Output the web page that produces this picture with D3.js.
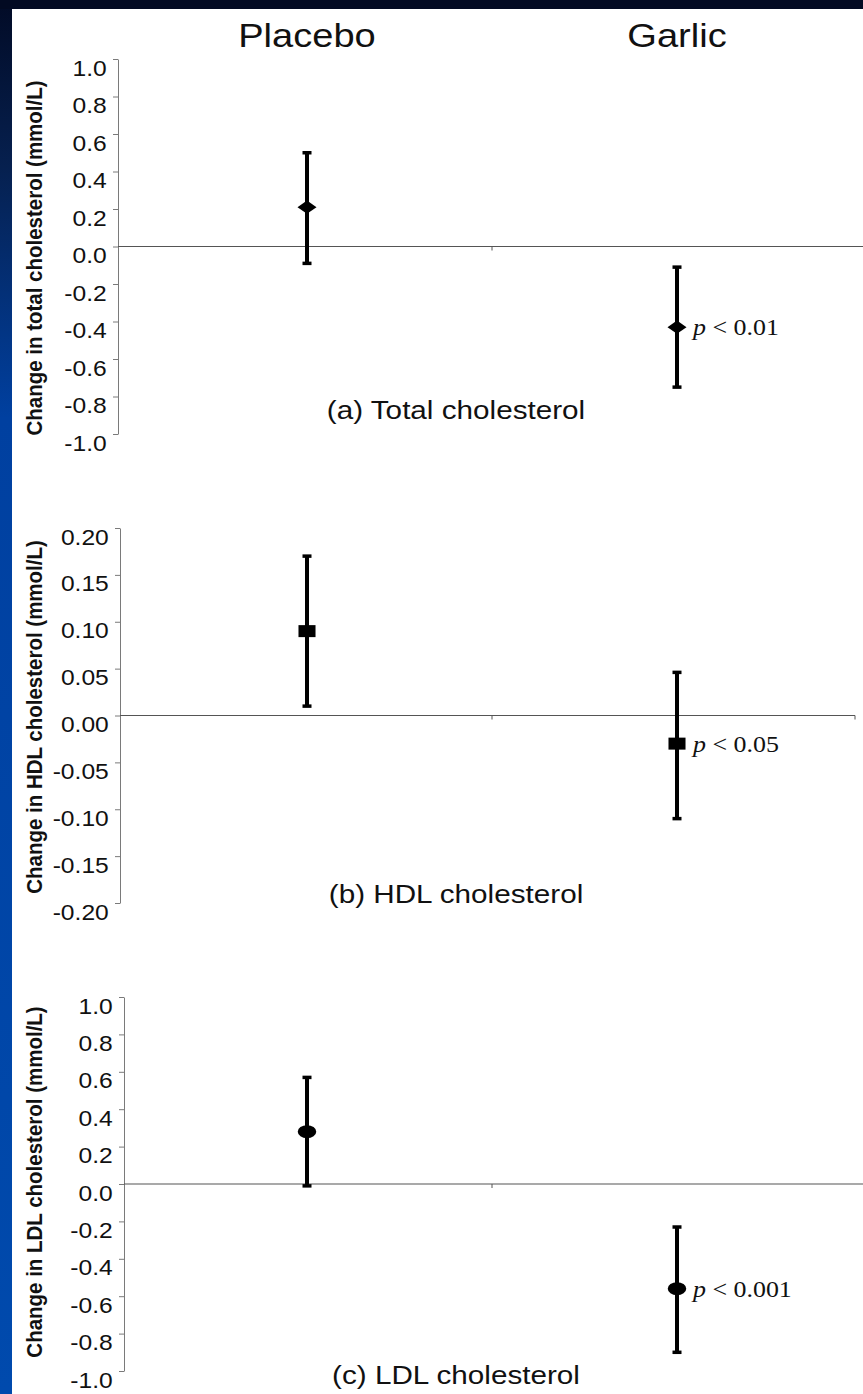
<!DOCTYPE html>
<html>
<head>
<meta charset="utf-8">
<script src="https://cdn.jsdelivr.net/npm/d3@7"></script>
<style>
  body { margin: 0; background: #fff; }
  svg { display: block; }
</style>
</head>
<body>
<div id="chart"></div>
<script>
// Groups along the x axis
var groups = ["Placebo", "Garlic"];

// (a) Total cholesterol change, mmol/L
var totalMean = [0.21, -0.43];
var totalLow = [-0.09, -0.75];
var totalHigh = [0.50, -0.11];
var totalTicks = [1.0, 0.8, 0.6, 0.4, 0.2, 0.0, -0.2, -0.4, -0.6, -0.8, -1.0];

// (b) HDL cholesterol change, mmol/L
var hdlMean = [0.09, -0.03];
var hdlLow = [0.01, -0.11];
var hdlHigh = [0.17, 0.046];
var hdlTicks = [0.20, 0.15, 0.10, 0.05, 0.00, -0.05, -0.10, -0.15, -0.20];

// (c) LDL cholesterol change, mmol/L
var ldlMean = [0.28, -0.56];
var ldlLow = [-0.01, -0.90];
var ldlHigh = [0.57, -0.23];
var ldlTicks = [1.0, 0.8, 0.6, 0.4, 0.2, 0.0, -0.2, -0.4, -0.6, -0.8, -1.0];

var pLabels = ["< 0.01", "< 0.05", "< 0.001"];
var panelLabels = ["(a) Total cholesterol", "(b) HDL cholesterol", "(c) LDL cholesterol"];
var axisTitles = [
  "Change in total cholesterol (mmol/L)",
  "Change in HDL cholesterol (mmol/L)",
  "Change in LDL cholesterol (mmol/L)"
];

var W = 863, H = 1394;
var stretch = 1.12; // the scanned figure is a little wider than tall
var sans = "'Liberation Sans', Arial, sans-serif";
var serif = "'Liberation Serif', 'Times New Roman', serif";

var panels = [
  {mean: totalMean, low: totalLow, high: totalHigh, ticks: totalTicks, digits: 1, symbol: "diamond"},
  {mean: hdlMean, low: hdlLow, high: hdlHigh, ticks: hdlTicks, digits: 2, symbol: "square"},
  {mean: ldlMean, low: ldlLow, high: ldlHigh, ticks: ldlTicks, digits: 1, symbol: "circle"}
];

// where each panel sits on the page
var layout = [
  {top: 59, bottom: 434, axisX: 118, lineEnd: 863, labelY: 419, titleY: 258},
  {top: 528, bottom: 903, axisX: 120, lineEnd: 855, labelY: 903, titleY: 717},
  {top: 997, bottom: 1371, axisX: 124, lineEnd: 863, labelY: 1384, titleY: 1182}
];

var svg = d3.select("#chart")
  .append("svg")
  .attr("width", W)
  .attr("height", H);

// Slide frame: dark band on top, blue gradient down the left edge
var grad = svg.append("defs").append("linearGradient")
  .attr("id", "edge")
  .attr("x1", 0).attr("y1", 0).attr("x2", 0).attr("y2", 1);
[[0, "#020b26"], [0.12, "#06204f"], [0.3, "#0040a0"], [1, "#004aad"]].forEach(function(s) {
  grad.append("stop").attr("offset", s[0]).attr("stop-color", s[1]);
});

svg.append("rect").attr("width", W).attr("height", H).attr("fill", "#fff");
svg.append("rect").attr("width", 12).attr("height", H).attr("fill", "url(#edge)");
svg.append("rect").attr("width", W).attr("height", 9).attr("fill", "#020a22");

var x = d3.scaleBand()
  .domain(groups)
  .range([122, 862]);

function cx(d) { return x(d) + x.bandwidth() / 2; }

// Column headings
svg.selectAll(".head")
  .data(groups)
  .enter()
  .append("text")
  .attr("class", "head")
  .attr("transform", function(d) { return "translate(" + cx(d) + ",47) scale(" + stretch + ",1)"; })
  .attr("text-anchor", "middle")
  .style("font-family", sans)
  .style("font-size", "34px")
  .style("fill", "#111")
  .text(function(d) { return d; });

var symbolTypes = {diamond: d3.symbolSquare, square: d3.symbolSquare, circle: d3.symbolCircle};
var symbolSizes = {diamond: 90, square: 144, circle: 133};

panels.forEach(function(p, i) {
  var L = layout[i];
  var g = svg.append("g");

  var y = d3.scaleLinear()
    .domain([d3.min(p.ticks), d3.max(p.ticks)])
    .range([L.bottom, L.top]);

  // Y axis
  var axis = g.append("g")
    .attr("transform", "translate(" + L.axisX + ",0)")
    .call(d3.axisLeft(y)
      .tickValues(p.ticks)
      .tickSize(5)
      .tickSizeOuter(0)
      .tickFormat(function(d) { return d.toFixed(p.digits); }));

  axis.select(".domain").attr("stroke", "#7a7a7a");
  axis.selectAll(".tick line").attr("stroke", "#7a7a7a");
  axis.selectAll(".tick text")
    .attr("transform", "scale(" + stretch + ",1)")
    .attr("x", -10)
    .attr("dy", null)
    .attr("y", 16)
    .style("font-family", sans)
    .style("font-size", "22px")
    .style("fill", "#111");

  // Axis title
  g.append("text")
    .attr("transform", "translate(34," + L.titleY + ") scale(" + stretch + ",1) rotate(-90)")
    .attr("text-anchor", "middle")
    .attr("dy", "0.35em")
    .style("font-family", sans)
    .style("font-weight", "bold")
    .style("font-size", "20.5px")
    .style("fill", "#111")
    .text(axisTitles[i]);

  // Zero line with the group divider tick (and an end tick when the line stops short)
  g.append("line")
    .attr("x1", L.axisX).attr("x2", L.lineEnd)
    .attr("y1", y(0)).attr("y2", y(0))
    .attr("stroke", "#555")
    .attr("stroke-width", 1.2);

  var dividers = [x("Garlic")];
  if (L.lineEnd < W) dividers.push(L.lineEnd);
  g.selectAll(".divider")
    .data(dividers)
    .enter()
    .append("line")
    .attr("x1", function(d) { return d; })
    .attr("x2", function(d) { return d; })
    .attr("y1", y(0)).attr("y2", y(0) + 4)
    .attr("stroke", "#555");

  // Error bars
  var bars = g.selectAll(".bar")
    .data(groups)
    .enter()
    .append("g")
    .attr("class", "bar");

  bars.append("line")
    .attr("x1", cx).attr("x2", cx)
    .attr("y1", function(d, j) { return y(p.high[j]); })
    .attr("y2", function(d, j) { return y(p.low[j]); })
    .attr("stroke", "#000")
    .attr("stroke-width", 4);

  ["high", "low"].forEach(function(k) {
    bars.append("line")
      .attr("x1", function(d) { return cx(d) - 4.5; })
      .attr("x2", function(d) { return cx(d) + 4.5; })
      .attr("y1", function(d, j) { return y(p[k][j]); })
      .attr("y2", function(d, j) { return y(p[k][j]); })
      .attr("stroke", "#000")
      .attr("stroke-width", 3.5);
  });

  // Mean markers
  bars.append("path")
    .attr("d", d3.symbol().type(symbolTypes[p.symbol]).size(symbolSizes[p.symbol]))
    .attr("transform", function(d, j) {
      var t = "translate(" + cx(d) + "," + y(p.mean[j]) + ") scale(1.42,1)";
      return p.symbol === "diamond" ? t + " rotate(45)" : t;
    })
    .attr("fill", "#000");

  // p value next to the garlic mean
  var pt = g.append("text")
    .attr("transform", "translate(" + (cx("Garlic") + 16) + "," + (y(p.mean[1]) + 8) + ") scale(1.08,1)")
    .style("font-family", serif)
    .style("font-size", "24px")
    .style("fill", "#111");
  pt.append("tspan").style("font-style", "italic").text("p");
  pt.append("tspan").text(" " + pLabels[i]);

  // Panel caption
  g.append("text")
    .attr("transform", "translate(456," + L.labelY + ") scale(" + stretch + ",1)")
    .attr("text-anchor", "middle")
    .style("font-family", sans)
    .style("font-size", "26.5px")
    .style("fill", "#111")
    .text(panelLabels[i]);
});
</script>
</body>
</html>
